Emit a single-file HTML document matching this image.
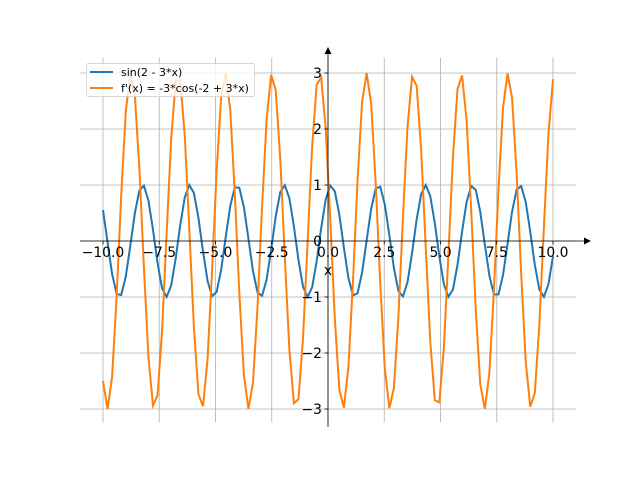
<!DOCTYPE html>
<html><head><meta charset="utf-8"><style>
body{margin:0;background:#fff}
svg{display:block;font-family:"DejaVu Sans","Liberation Sans",sans-serif}
</style></head><body>
<svg id="s" width="640" height="480" viewBox="0 0 640 480" xmlns="http://www.w3.org/2000/svg">
<rect width="640" height="480" fill="#fff"/>
<g stroke="#b0b0b0" stroke-width="0.8">
<line x1="103" y1="57.6" x2="103" y2="422.4"/>
<line x1="159.25" y1="57.6" x2="159.25" y2="422.4"/>
<line x1="215.5" y1="57.6" x2="215.5" y2="422.4"/>
<line x1="271.75" y1="57.6" x2="271.75" y2="422.4"/>
<line x1="328" y1="57.6" x2="328" y2="422.4"/>
<line x1="384.25" y1="57.6" x2="384.25" y2="422.4"/>
<line x1="440.5" y1="57.6" x2="440.5" y2="422.4"/>
<line x1="496.75" y1="57.6" x2="496.75" y2="422.4"/>
<line x1="553" y1="57.6" x2="553" y2="422.4"/>
<line x1="80" y1="73" x2="576" y2="73"/>
<line x1="80" y1="129" x2="576" y2="129"/>
<line x1="80" y1="185" x2="576" y2="185"/>
<line x1="80" y1="241" x2="576" y2="241"/>
<line x1="80" y1="297" x2="576" y2="297"/>
<line x1="80" y1="353" x2="576" y2="353"/>
<line x1="80" y1="409" x2="576" y2="409"/>
</g>
<polyline id="p1" fill="none" stroke="#1f77b4" stroke-width="2"/>
<polyline id="p2" fill="none" stroke="#ff7f0e" stroke-width="2"/>
<g stroke="#000" stroke-width="0.8">
<line x1="80" y1="241" x2="584" y2="241"/>
<line x1="328" y1="427" x2="328" y2="50"/>
<line x1="103" y1="241" x2="103" y2="244.5"/><line x1="159.25" y1="241" x2="159.25" y2="244.5"/><line x1="215.5" y1="241" x2="215.5" y2="244.5"/><line x1="271.75" y1="241" x2="271.75" y2="244.5"/><line x1="384.25" y1="241" x2="384.25" y2="244.5"/><line x1="440.5" y1="241" x2="440.5" y2="244.5"/><line x1="496.75" y1="241" x2="496.75" y2="244.5"/><line x1="553" y1="241" x2="553" y2="244.5"/>
<line x1="328" y1="73" x2="324.5" y2="73"/><line x1="328" y1="129" x2="324.5" y2="129"/><line x1="328" y1="185" x2="324.5" y2="185"/><line x1="328" y1="297" x2="324.5" y2="297"/><line x1="328" y1="353" x2="324.5" y2="353"/><line x1="328" y1="409" x2="324.5" y2="409"/>
</g>
<polygon points="584,237.5 584,244.5 591,241" fill="#000"/>
<polygon points="324.5,54 331.5,54 328,47" fill="#000"/>
<g font-size="13.9" fill="#000" text-anchor="middle">
<text x="103" y="257">−10.0</text><text x="159.25" y="257">−7.5</text><text x="215.5" y="257">−5.0</text><text x="271.75" y="257">−2.5</text><text x="328" y="257">0.0</text><text x="384.25" y="257">2.5</text><text x="440.5" y="257">5.0</text><text x="496.75" y="257">7.5</text><text x="553" y="257">10.0</text>
<text x="328" y="275">x</text>
</g>
<g font-size="13.9" fill="#000" text-anchor="end">
<text x="322" y="78">3</text><text x="322" y="134">2</text><text x="322" y="190">1</text><text x="322" y="246">0</text><text x="322" y="302">−1</text><text x="322" y="358">−2</text><text x="322" y="414">−3</text>
</g>
<rect x="86.5" y="63.5" width="168" height="33" rx="2" fill="#fff" fill-opacity="0.8" stroke="#ccc" stroke-width="0.8"/>
<line x1="90" y1="72" x2="113" y2="72" stroke="#1f77b4" stroke-width="2"/>
<line x1="90" y1="88" x2="113" y2="88" stroke="#ff7f0e" stroke-width="2"/>
<g font-size="11" fill="#000">
<text x="121" y="76">sin(2 - 3*x)</text>
<text x="121" y="92">f'(x) = -3*cos(-2 + 3*x)</text>
</g>
</svg>
<script>
var a=[],b=[];
for(var i=0;i<100;i++){var x=-10+20*i/99;
var X=(328+22.5*x).toFixed(2);
a.push(X+","+(241-56*Math.sin(2-3*x)).toFixed(2));
b.push(X+","+(241-56*(-3*Math.cos(-2+3*x))).toFixed(2));}
document.getElementById("p1").setAttribute("points",a.join(" "));
document.getElementById("p2").setAttribute("points",b.join(" "));
</script>
</body></html>
